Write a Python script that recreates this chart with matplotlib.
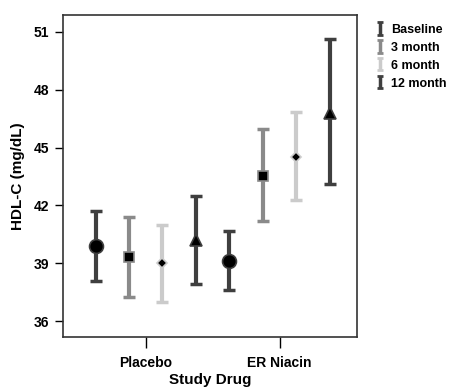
import numpy as np
import matplotlib
matplotlib.use("Agg")
import matplotlib.pyplot as plt

plt.rcParams['font.family'] = ['Liberation Sans', 'DejaVu Sans']
plt.rcParams['font.weight'] = 'bold'

groups = ["Placebo", "ER Niacin"]
series = ["Baseline", "3 month", "6 month", "12 month"]
means = {
    "Baseline": [39.88, 39.12],
    "3 month": [39.31, 43.54],
    "6 month": [39.00, 44.53],
    "12 month": [40.20, 46.81],
}
upper = {
    "Baseline": [41.69, 40.67],
    "3 month": [41.41, 45.96],
    "6 month": [41.00, 46.83],
    "12 month": [42.49, 50.62],
}
lower = {
    "Baseline": [38.09, 37.63],
    "3 month": [37.23, 41.17],
    "6 month": [36.98, 42.26],
    "12 month": [37.90, 43.10],
}
yticks = [36, 39, 42, 45, 48, 51]

colors = ["#3f3f3f", "#8a8a8a", "#cbcbcb", "#3f3f3f"]
markers = ["o", "s", "D", "^"]
msizes = [10, 7, 5, 9]

fig = plt.figure(figsize=(4.52, 3.91), dpi=100)
ax = fig.add_axes([0.139, 0.138, 0.651, 0.824])

xc = np.array([0.0, 1.0])
step = 0.25
for i, s in enumerate(series):
    x = xc + (i - 1.5) * step
    m = np.array(means[s])
    err = [m - np.array(lower[s]), np.array(upper[s]) - m]
    ax.errorbar(x, m, yerr=err, fmt="none", ecolor=colors[i], elinewidth=3,
                capsize=4, capthick=2.5, zorder=2)
    ax.plot(x, m, linestyle="none", marker=markers[i], markersize=msizes[i],
            markerfacecolor="black", markeredgecolor=colors[i],
            markeredgewidth=1.2, zorder=3)

# legend proxies
handles = []
for i, s in enumerate(series):
    h = ax.errorbar([np.nan], [np.nan], yerr=[1], fmt="none", ecolor=colors[i],
                    elinewidth=2.5, capsize=2.5, capthick=2, label=s)
    handles.append(h)
leg = fig.legend(handles=handles, labels=series, loc="upper left",
                 bbox_to_anchor=(0.835, 0.94), frameon=False, fontsize=9,
                 borderpad=0, borderaxespad=0,
                 handlelength=0.4, handleheight=1.0, handletextpad=0.7,
                 labelspacing=0.4)

ax.set_xlim(-0.62, 1.58)
ax.set_ylim(35.17, 51.88)
ax.set_yticks(yticks)
ax.set_xticks(xc)
ax.set_xticklabels(groups)
ax.tick_params(axis="y", direction="out", length=6, width=1, labelsize=10, pad=4)
ax.tick_params(axis="x", direction="out", length=8, width=1, labelsize=10, pad=6)
for sp in ax.spines.values():
    sp.set_linewidth(1.2)
    sp.set_color("#333333")

ax.set_ylabel("HDL-C (mg/dL)", fontsize=11, fontweight="bold", labelpad=6)
ax.set_xlabel("Study Drug", fontsize=11, fontweight="bold", labelpad=2)

fig.savefig("out.png", dpi=100)
